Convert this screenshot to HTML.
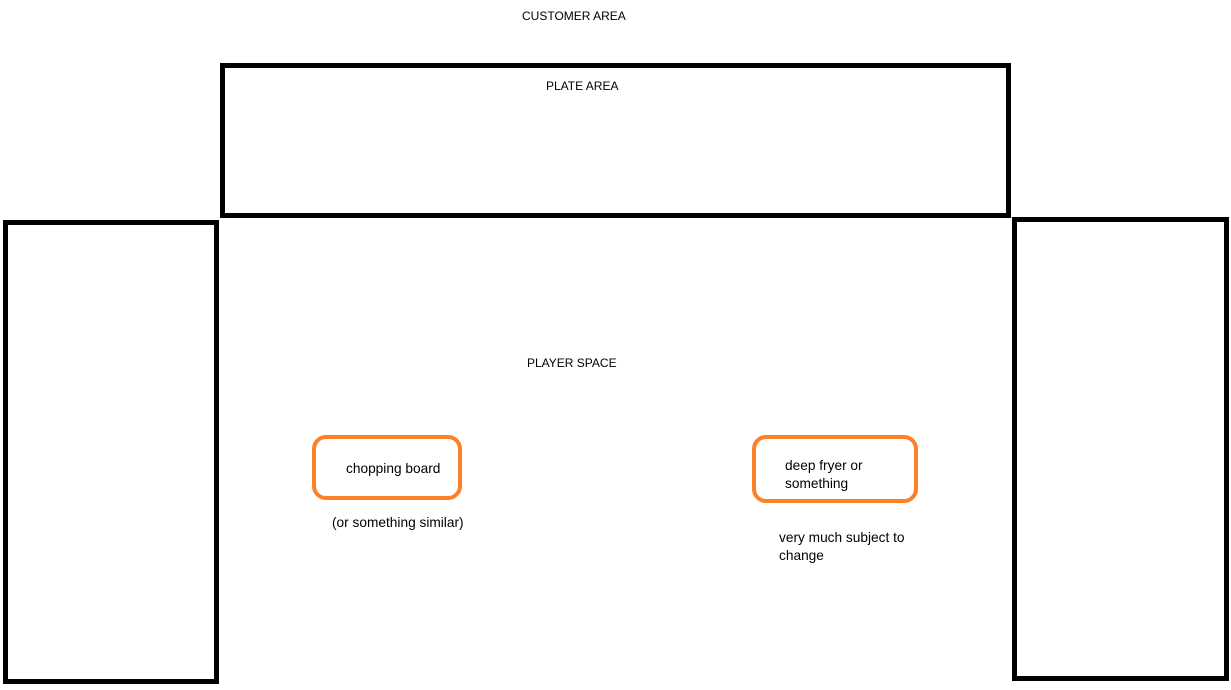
<!DOCTYPE html>
<html><head><style>
body{margin:0;width:1231px;height:690px;background:#fff;position:relative;overflow:hidden;font-family:"Liberation Sans",sans-serif;font-size:13.7px;color:#000}
.b{position:absolute;border:5px solid #000;box-sizing:border-box}
.o{position:absolute;border:4px solid #ff7f27;border-radius:14px;box-sizing:border-box}
.t{position:absolute;white-space:nowrap;line-height:18px}
</style></head><body>
<div class="b" style="left:220px;top:63px;width:791px;height:155px"></div>
<div class="b" style="left:3px;top:220px;width:216px;height:464px"></div>
<div class="b" style="left:1012px;top:217px;width:217px;height:464px"></div>
<div class="o" style="left:312px;top:435px;width:150px;height:65px"></div>
<div class="o" style="left:752px;top:435px;width:166px;height:68px"></div>
<div class="t" style="left:522px;top:7px;font-size:12px">CUSTOMER AREA</div>
<div class="t" style="left:546px;top:77px;font-size:12px">PLATE AREA</div>
<div class="t" style="left:527px;top:354px;font-size:12px">PLAYER SPACE</div>
<div class="t" style="left:346px;top:460px">chopping board</div>
<div class="t" style="left:785px;top:457px">deep fryer or<br>something</div>
<div class="t" style="left:332px;top:514px">(or something similar)</div>
<div class="t" style="left:779px;top:529px">very much subject to<br>change</div>
</body></html>
